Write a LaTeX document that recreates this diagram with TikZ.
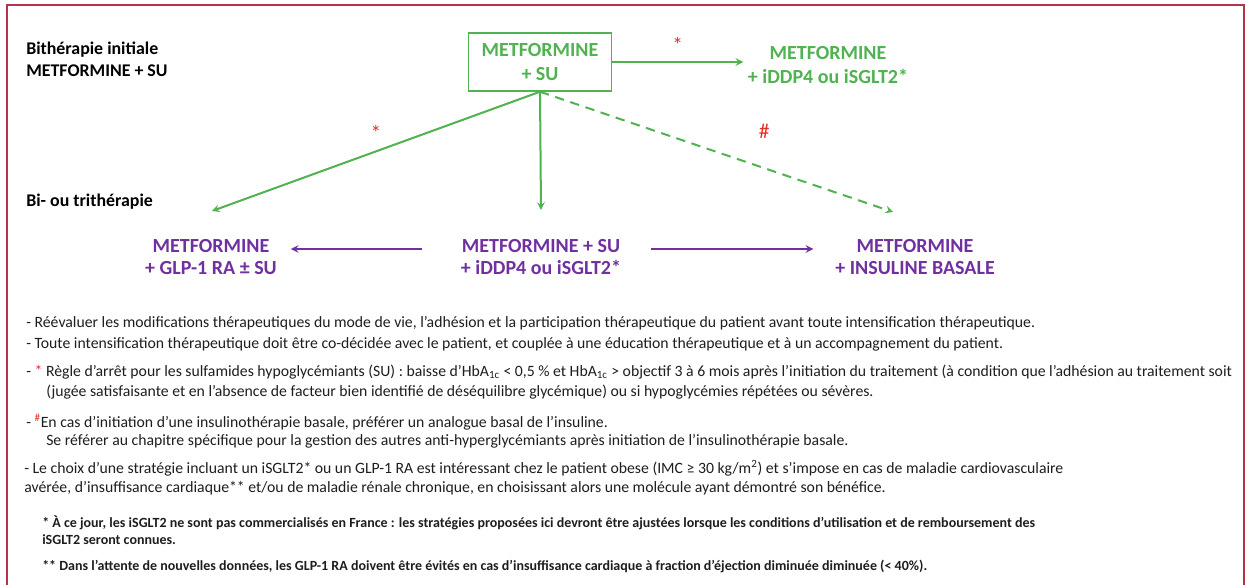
\documentclass[tikz,border=0pt]{standalone}
\usepackage{fontspec}
\setmainfont{Carlito}
\usepackage{xcolor}
\definecolor{metgreen}{RGB}{80,178,80}
\definecolor{metpurple}{RGB}{112,48,160}
\definecolor{starred}{RGB}{226,48,40}
\definecolor{framered}{RGB}{178,52,72}
\definecolor{notetext}{RGB}{30,30,30}
\tikzset{
  greentx/.style={text=metgreen, font=\fontsize{15}{18}\selectfont\bfseries, align=center},
  purpletx/.style={text=metpurple, font=\fontsize{15}{16.5}\selectfont\bfseries, align=center},
  steplabel/.style={font=\fontsize{13.4}{16.5}\selectfont\bfseries, align=left, anchor=west, inner sep=0pt},
  noteline/.style={text=notetext, font=\fontsize{11.8}{13}\selectfont, anchor=west, inner sep=0pt},
  footline/.style={text=notetext, font=\fontsize{10.5}{12}\selectfont\bfseries, anchor=west, inner sep=0pt},
  starlabel/.style={text=starred, font=\fontsize{16}{16}\selectfont},
}

\begin{document}
\begin{tikzpicture}[x=0.75pt, y=-0.75pt]
  \useasboundingbox (0,0) rectangle (1247,585);
  \fill[white] (0,0) rectangle (1247,585);
  \draw[framered, line width=1.2pt] (7,5) rectangle (1244,600);

  % stages
  \node[steplabel] (init) at (26,59) {Bithérapie initiale\\METFORMINE + SU};
  \node[steplabel] (bitri) at (26,202) {Bi- ou trithérapie};

  % first line
  \node[greentx, draw=metgreen, line width=1.1pt, minimum width=107pt, minimum height=43.5pt] (box) at (540,62) {METFORMINE\\+ SU};
  \node[greentx] (dpp) at (828,65) {METFORMINE\\+ iDDP4 ou iSGLT2*};

  % second line
  \node[purpletx] (glp) at (211,257) {METFORMINE\\+ GLP-1 RA ± SU};
  \node[purpletx] (mid) at (541,257) {METFORMINE + SU\\+ iDDP4 ou iSGLT2*};
  \node[purpletx] (ins) at (915,257) {METFORMINE\\+ INSULINE BASALE};
  \coordinate (glpend) at (212,211);
  \coordinate (midend) at (541,210);
  \coordinate (insend) at (893,212);

  \path[-stealth, metgreen, line width=1.5pt]
    (box.east) edge node[starlabel, above=3pt] {*} (box.east -| dpp.west)
    (box.south) edge node[starlabel, above=4pt] {*} (glpend)
    (box.south) edge (midend)
    (box.south) edge[dash pattern=on 7pt off 5pt] node[starlabel, pos=0.62, above=17pt, xshift=4pt] {\#} (insend);
  \path[-stealth, metpurple, line width=1.5pt]
    ([yshift=6pt]mid.west) edge[shorten <=26pt, shorten >=7pt] ([yshift=6pt]glp.east)
    ([yshift=6pt]mid.east) edge[shorten <=19pt, shorten >=13pt] ([yshift=6pt]ins.west);

  % notes
  \node[noteline] (l1) at (26,323) {- Réévaluer les modifications thérapeutiques du mode de vie, l'adhésion et la participation thérapeutique du patient avant toute intensification thérapeutique.};
  \node[noteline] (l2) at (26,344) {- Toute intensification thérapeutique doit être co-décidée avec le patient, et couplée à une éducation thérapeutique et à un accompagnement du patient.};
  \node[noteline] (l3) at (26,372) {- \textcolor{starred}{*} Règle d'arrêt pour les sulfamides hypoglycémiants (SU) : baisse d'HbA\textsubscript{1c} < 0,5 \% et HbA\textsubscript{1c} > objectif 3 à 6 mois après l'initiation du traitement (à condition que l'adhésion au traitement soit};
  \node[noteline] (l4) at (46,392) {(jugée satisfaisante et en l'absence de facteur bien identifié de déséquilibre glycémique) ou si hypoglycémies répétées ou sévères.};
  \node[noteline] (l5) at (26,422) {- \textcolor{starred}{\textsuperscript{\#}}En cas d'initiation d'une insulinothérapie basale, préférer un analogue basal de l'insuline.};
  \node[noteline] (l6) at (46,441) {Se référer au chapitre spécifique pour la gestion des autres anti-hyperglycémiants après initiation de l'insulinothérapie basale.};
  \node[noteline] (l7) at (24,468) {- Le choix d'une stratégie incluant un iSGLT2* ou un GLP-1 RA est intéressant chez le patient obese (IMC ≥ 30 kg/m\textsuperscript{2}) et s'impose en cas de maladie cardiovasculaire};
  \node[noteline] (l8) at (24,488) {avérée, d'insuffisance cardiaque** et/ou de maladie rénale chronique, en choisissant alors une molécule ayant démontré son bénéfice.};

  % footnotes
  \node[footline] (f1) at (42,523) {* À ce jour, les iSGLT2 ne sont pas commercialisés en France : les stratégies proposées ici devront être ajustées lorsque les conditions d'utilisation et de remboursement des};
  \node[footline] (f2) at (42,540) {iSGLT2 seront connues.};
  \node[footline] (f3) at (42,566) {** Dans l'attente de nouvelles données, les GLP-1 RA doivent être évités en cas d'insuffisance cardiaque à fraction d'éjection diminuée diminuée (< 40\%).};
\end{tikzpicture}
\end{document}
